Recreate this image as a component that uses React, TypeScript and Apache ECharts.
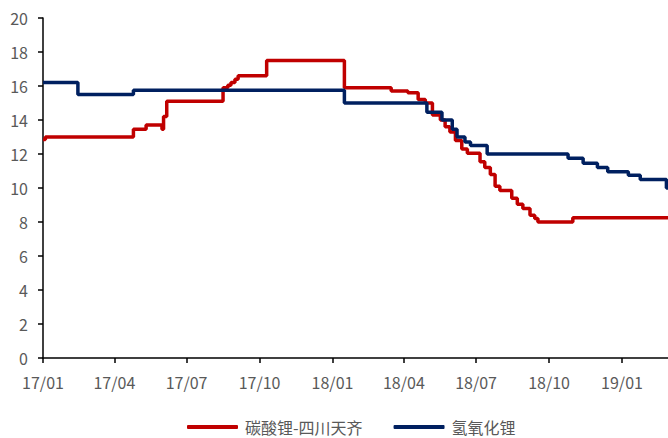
import React, { useEffect, useRef } from "react";
import * as echarts from "echarts";

const seriesNames = ["碳酸锂-四川天齐", "氢氧化锂"];

const carbonateDates = [
  "2017-01-01", "2017-01-04", "2017-04-25", "2017-05-11", "2017-05-31", "2017-06-02",
  "2017-06-06", "2017-08-16", "2017-08-22", "2017-08-26", "2017-08-31", "2017-09-04",
  "2017-10-10", "2018-01-16", "2018-03-16", "2018-04-06", "2018-04-19", "2018-04-28",
  "2018-05-07", "2018-05-17", "2018-05-23", "2018-05-29", "2018-06-05", "2018-06-13",
  "2018-06-20", "2018-07-06", "2018-07-12", "2018-07-19", "2018-07-25", "2018-07-31",
  "2018-08-15", "2018-08-22", "2018-08-29", "2018-09-07", "2018-09-13", "2018-09-17",
  "2018-10-31", "2019-02-28",
];
const carbonateValues = [
  12.85, 13.0, 13.45, 13.7, 13.45, 14.2,
  15.1, 15.9, 16.05, 16.2, 16.4, 16.6,
  17.5, 15.9, 15.7, 15.6, 15.2, 15.0,
  14.3, 14.0, 13.6, 13.3, 12.8, 12.3,
  12.05, 11.55, 11.2, 10.8, 10.1, 9.85,
  9.4, 9.05, 8.8, 8.4, 8.2, 8.0,
  8.25, 8.25,
];

const hydroxideDates = [
  "2017-01-01", "2017-02-14", "2017-04-25", "2018-01-16", "2018-04-30", "2018-05-19",
  "2018-06-01", "2018-06-07", "2018-06-17", "2018-06-24", "2018-07-15", "2018-10-25",
  "2018-11-13", "2018-12-01", "2018-12-14", "2019-01-09", "2019-01-24", "2019-02-26",
  "2019-02-28",
];
const hydroxideValues = [
  16.2, 15.5, 15.75, 15.0, 14.45, 14.0,
  13.45, 13.0, 12.7, 12.5, 12.0, 11.75,
  11.45, 11.2, 10.95, 10.75, 10.5, 10.0,
  10.0,
];

const tickLabels = ["17/01", "17/04", "17/07", "17/10", "18/01", "18/04", "18/07", "18/10", "19/01"];
const axisStart = "2017-01-01";
const axisEnd = "2019-02-28";

const FONT = "'Noto Sans CJK SC', 'Noto Sans', sans-serif";
const GRAY = "#595959";

const toTime = (s: string) => {
  const [y, m, d] = s.split("-").map(Number);
  return Date.UTC(y, m - 1, d);
};
const labelToTime = (l: string) => {
  const [yy, mm] = l.split("/").map(Number);
  return Date.UTC(2000 + yy, mm - 1, 1);
};

export default function App() {
  const ref = useRef<HTMLDivElement>(null);
  useEffect(() => {
    if (!ref.current) return;
    const chart = echarts.init(ref.current, null, { renderer: "svg" });
    const ticks = tickLabels.map(labelToTime);
    const fmt = (v: number) => {
      const i = ticks.findIndex((t) => Math.abs(t - v) < 1000);
      return i >= 0 ? tickLabels[i] : "";
    };
    chart.setOption({
      animation: false,
      textStyle: { fontFamily: FONT },
      grid: { left: 43, right: 0, top: 18, bottom: 80, outerBoundsMode: "none" },
      legend: {
        left: 187,
        top: 419,
        padding: 0,
        itemWidth: 51,
        itemHeight: 4,
        itemGap: 31,
        icon: "roundRect",
        textStyle: { fontFamily: FONT, fontSize: 16, color: GRAY, padding: [0, 0, 0, 2] },
        data: seriesNames,
      },
      xAxis: {
        type: "value",
        min: toTime(axisStart),
        max: toTime(axisEnd),
        axisLine: { show: true, onZero: false, lineStyle: { color: "#000", width: 1.5 } },
        axisTick: { show: true, length: 5, lineStyle: { color: "#000", width: 1.5 }, customValues: ticks },
        axisLabel: {
          customValues: ticks,
          formatter: fmt,
          color: GRAY,
          fontSize: 16,
          fontFamily: FONT,
          margin: 16,
        },
        splitLine: { show: false },
      },
      yAxis: {
        type: "value",
        min: 0,
        max: 20,
        interval: 2,
        axisLine: { show: true, lineStyle: { color: "#000", width: 1.5 } },
        axisTick: { show: true, length: 5, lineStyle: { color: "#000", width: 1.5 } },
        axisLabel: { color: GRAY, fontSize: 16, fontFamily: FONT, margin: 15 },
        splitLine: { show: false },
      },
      series: [
        {
          name: seriesNames[0],
          type: "line",
          step: "end",
          showSymbol: false,
          symbol: "none",
          lineStyle: { color: "#C00000", width: 3.5 },
          itemStyle: { color: "#C00000" },
          data: carbonateDates.map((d, i) => [toTime(d), carbonateValues[i]]),
        },
        {
          name: seriesNames[1],
          type: "line",
          step: "end",
          showSymbol: false,
          symbol: "none",
          lineStyle: { color: "#002060", width: 3.5 },
          itemStyle: { color: "#002060" },
          data: hydroxideDates.map((d, i) => [toTime(d), hydroxideValues[i]]),
        },
      ],
    });
    return () => chart.dispose();
  }, []);
  return (
    <div
      ref={ref}
      style={{ position: "fixed", left: 0, top: 0, width: 668, height: 438, background: "#fff" }}
    />
  );
}
